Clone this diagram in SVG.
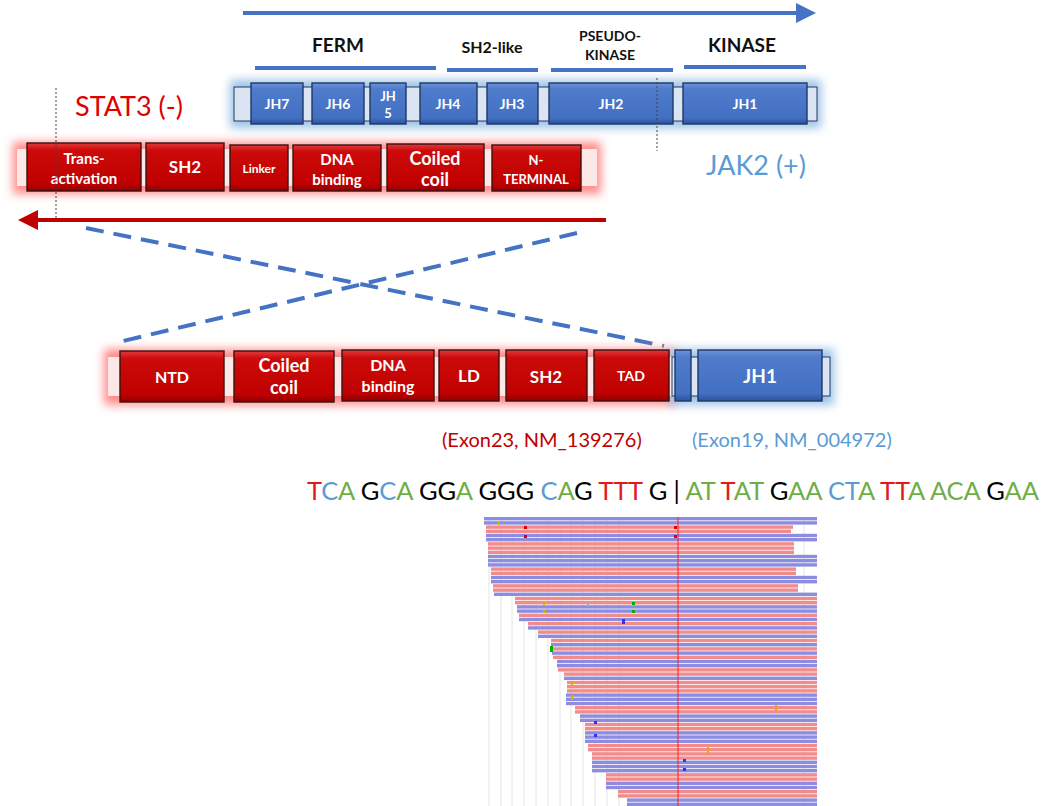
<svg xmlns="http://www.w3.org/2000/svg" width="1050" height="806" viewBox="0 0 1050 806">
<defs>
<linearGradient id="gB" x1="0" y1="0" x2="0" y2="1"><stop offset="0" stop-color="#6b93db"/><stop offset="0.15" stop-color="#4f7bcb"/><stop offset="0.85" stop-color="#4270c2"/><stop offset="1" stop-color="#2d5299"/></linearGradient>
<linearGradient id="gR" x1="0" y1="0" x2="0" y2="1"><stop offset="0" stop-color="#e23a3a"/><stop offset="0.15" stop-color="#cc0a0a"/><stop offset="0.85" stop-color="#c00000"/><stop offset="1" stop-color="#8e0000"/></linearGradient>
<filter id="blur" x="-20%" y="-60%" width="140%" height="220%"><feGaussianBlur stdDeviation="5"/></filter>
<marker id="ahB" markerWidth="5" markerHeight="5" refX="1" refY="2.5" orient="auto" markerUnits="strokeWidth"><path d="M0,0 L5,2.5 L0,5 Z" fill="#4472c4"/></marker>
<marker id="ahR" markerWidth="5" markerHeight="5" refX="1" refY="2.5" orient="auto" markerUnits="strokeWidth"><path d="M0,0 L5,2.5 L0,5 Z" fill="#c00000"/></marker>
<style>
.bb{fill:url(#gB);stroke:#1f3864;stroke-width:1.4}
.rb{fill:url(#gR);stroke:#3a1010;stroke-width:1.4}
.lb{fill:#fff;font-family:Lato,"Liberation Sans",sans-serif;font-weight:bold;text-anchor:middle}
.hd{fill:#111;font-family:Lato,"Liberation Sans",sans-serif;font-weight:bold;text-anchor:middle}
.hl{stroke:#4472c4;stroke-width:4}
.dash{stroke:#4472c4;stroke-width:4;stroke-dasharray:18 10;fill:none}
.dot{stroke:#444;stroke-width:1;stroke-dasharray:2 2}
.big{font-family:Lato,"Liberation Sans",sans-serif}
.b{fill:#8c8ce0}.p{fill:#f28b8b}
.grid{stroke:#e4e4e4;stroke-width:1}
.r{fill:#e31a1c}.c{fill:#5b9bd5}.a{fill:#70ad47}.k{fill:#000}
</style>
</defs>
<rect width="1050" height="806" fill="#fff"/>

<!-- JAK2 -->
<g id="jak2">
<rect x="230" y="80" width="591" height="48" fill="#9dc3e6" filter="url(#blur)"/>
<rect x="234" y="87" width="583" height="34" fill="#dbe4f3" stroke="#203864" stroke-width="1"/>
<g id="jh7"><rect class="bb" x="251" y="83" width="52" height="41"/><text class="lb" x="277" y="109" font-size="14">JH7</text></g>
<g id="jh6"><rect class="bb" x="312" y="83" width="52" height="41"/><text class="lb" x="338" y="109" font-size="14">JH6</text></g>
<g id="jh5"><rect class="bb" x="370" y="83" width="36" height="41"/><text class="lb" x="388" y="101" font-size="13">JH</text><text class="lb" x="388" y="118" font-size="13">5</text></g>
<g id="jh4"><rect class="bb" x="420" y="83" width="57" height="41"/><text class="lb" x="448" y="109" font-size="14">JH4</text></g>
<g id="jh3"><rect class="bb" x="487" y="83" width="51" height="41"/><text class="lb" x="512" y="109" font-size="14">JH3</text></g>
<g id="jh2"><rect class="bb" x="549" y="83" width="124" height="41"/><text class="lb" x="611" y="109" font-size="14">JH2</text></g>
<g id="jh1"><rect class="bb" x="683" y="83" width="124" height="41"/><text class="lb" x="745" y="109" font-size="14">JH1</text></g>
</g>

<g id="headers">
<text class="hd" x="338" y="52" font-size="19">FERM</text>
<text class="hd" x="492" y="53" font-size="16" font-weight="600">SH2-like</text>
<text class="hd" x="610" y="41" font-size="14">PSEUDO-</text>
<text class="hd" x="610" y="60" font-size="14">KINASE</text>
<text class="hd" x="742" y="52" font-size="19">KINASE</text>
<line class="hl" x1="255" y1="68" x2="436" y2="68"/>
<line class="hl" x1="447" y1="70" x2="538" y2="70"/>
<line class="hl" x1="551" y1="70" x2="673" y2="70"/>
<line class="hl" x1="684" y1="67" x2="806" y2="67"/>
</g>

<text id="stat3label" class="big" x="75" y="116" font-size="27" fill="#e00000">STAT3 (-)</text>
<text id="jak2label" class="big" x="706" y="175" font-size="27" fill="#5b9bd5">JAK2 (+)</text>

<!-- STAT3 -->
<g id="stat3">
<rect x="13" y="142" width="588" height="52" fill="#ff8a8a" filter="url(#blur)"/>
<rect x="17" y="149" width="580" height="37" fill="#fde8e8"/>
<g id="tad1"><rect class="rb" x="27" y="143" width="114" height="48"/><text class="lb" x="84" y="164" font-size="15">Trans-</text><text class="lb" x="84" y="184" font-size="15">activation</text></g>
<g id="sh2a"><rect class="rb" x="146" y="143" width="78" height="48"/><text class="lb" x="185" y="173" font-size="17">SH2</text></g>
<g id="linker"><rect class="rb" x="230" y="145" width="58" height="46"/><text class="lb" x="259" y="173" font-size="12">Linker</text></g>
<g id="dna1"><rect class="rb" x="293" y="145" width="88" height="46"/><text class="lb" x="337" y="165" font-size="15">DNA</text><text class="lb" x="337" y="185" font-size="15">binding</text></g>
<g id="cc1"><rect class="rb" x="387" y="144" width="97" height="47"/><text class="lb" x="435" y="165" font-size="18">Coiled</text><text class="lb" x="435" y="186" font-size="18">coil</text></g>
<g id="nterm"><rect class="rb" x="492" y="145" width="89" height="46"/><text class="lb" x="536" y="165" font-size="13">N-</text><text class="lb" x="536" y="184" font-size="13">TERMINAL</text></g>
</g>

<g id="connectors">
<line x1="243" y1="13" x2="800" y2="13" stroke="#4472c4" stroke-width="4" marker-end="url(#ahB)"/>
<line x1="606" y1="220" x2="34" y2="220" stroke="#c00000" stroke-width="4" marker-end="url(#ahR)"/>
<line class="dot" x1="56" y1="88" x2="56" y2="220"/>
<line class="dot" x1="657" y1="78" x2="657" y2="151"/>
<line class="dash" x1="86" y1="228" x2="664" y2="346"/>
<line class="dash" x1="577" y1="233" x2="123" y2="341"/>
</g>

<!-- Fusion -->
<g id="fusion">
<rect x="104" y="349" width="572" height="56" fill="#ff8a8a" filter="url(#blur)"/>
<rect x="668" y="349" width="166" height="56" fill="#9dc3e6" filter="url(#blur)"/>
<rect x="108" y="357" width="722" height="39" fill="#fde8e8"/>
<rect x="672" y="357" width="158" height="39" fill="#dbe4f3" stroke="#203864" stroke-width="1"/>
<g id="ntd"><rect class="rb" x="120" y="351" width="104" height="51"/><text class="lb" x="172" y="383" font-size="16">NTD</text></g>
<g id="cc2"><rect class="rb" x="234" y="351" width="100" height="51"/><text class="lb" x="284" y="372" font-size="18">Coiled</text><text class="lb" x="284" y="394" font-size="18">coil</text></g>
<g id="dna2"><rect class="rb" x="342" y="350" width="92" height="51"/><text class="lb" x="388" y="371" font-size="16">DNA</text><text class="lb" x="388" y="392" font-size="16">binding</text></g>
<g id="ld"><rect class="rb" x="439" y="350" width="60" height="51"/><text class="lb" x="469" y="382" font-size="17">LD</text></g>
<g id="sh2b"><rect class="rb" x="506" y="350" width="81" height="51"/><text class="lb" x="546" y="383" font-size="17">SH2</text></g>
<g id="tad2"><rect class="rb" x="594" y="350" width="75" height="51"/><text class="lb" x="631" y="381" font-size="14">TAD</text></g>
<g id="link"><rect class="bb" x="675" y="350" width="16" height="51"/></g>
<g id="jh1b"><rect class="bb" x="698" y="350" width="124" height="51"/><text class="lb" x="760" y="383" font-size="19">JH1</text></g>
</g>

<text class="big" x="442" y="447" font-size="20" fill="#c00000">(Exon23, NM_139276)</text>
<text class="big" x="692" y="447" font-size="20" fill="#5b9bd5">(Exon19, NM_004972)</text>

<text class="big" x="307" y="500" font-size="25.5" textLength="732" lengthAdjust="spacing"><tspan class="r">T</tspan><tspan class="c">C</tspan><tspan class="a">A</tspan><tspan class="k"> G</tspan><tspan class="c">C</tspan><tspan class="a">A</tspan><tspan class="k"> GG</tspan><tspan class="a">A</tspan><tspan class="k"> GGG </tspan><tspan class="c">C</tspan><tspan class="a">A</tspan><tspan class="k">G </tspan><tspan class="r">TTT</tspan><tspan class="k"> G | </tspan><tspan class="a">AT </tspan><tspan class="r">T</tspan><tspan class="a">AT</tspan><tspan class="k"> G</tspan><tspan class="a">AA </tspan><tspan class="c">CT</tspan><tspan class="a">A </tspan><tspan class="r">TT</tspan><tspan class="a">A ACA</tspan><tspan class="k"> G</tspan><tspan class="a">AA</tspan></text>

<!-- reads pileup -->
<g id="pileup">
<line class="grid" x1="489" y1="517" x2="489" y2="806"/>
<line class="grid" x1="501" y1="517" x2="501" y2="806"/>
<line class="grid" x1="512" y1="517" x2="512" y2="806"/>
<line class="grid" x1="524" y1="517" x2="524" y2="806"/>
<line class="grid" x1="536" y1="517" x2="536" y2="806"/>
<line class="grid" x1="548" y1="517" x2="548" y2="806"/>
<line class="grid" x1="560" y1="517" x2="560" y2="806"/>
<line class="grid" x1="571" y1="517" x2="571" y2="806"/>
<line class="grid" x1="583" y1="517" x2="583" y2="806"/>
<line class="grid" x1="595" y1="517" x2="595" y2="806"/>
<line class="grid" x1="607" y1="517" x2="607" y2="806"/>
<line class="grid" x1="619" y1="517" x2="619" y2="806"/>
<line class="grid" x1="804" y1="517" x2="804" y2="806"/>
<rect class="b" x="484" y="517.0" width="333" height="3.4"/>
<rect class="b" x="484" y="521.2" width="333" height="3.4"/>
<rect class="p" x="486" y="525.4" width="307" height="3.4"/>
<rect class="p" x="486" y="529.6" width="305" height="3.4"/>
<rect class="b" x="486" y="533.8" width="331" height="3.4"/>
<rect class="b" x="486" y="538.0" width="331" height="3.4"/>
<rect class="p" x="488" y="542.2" width="306" height="3.4"/>
<rect class="p" x="488" y="546.4" width="306" height="3.4"/>
<rect class="p" x="488" y="550.6" width="306" height="3.4"/>
<rect class="b" x="488" y="554.8" width="329" height="3.4"/>
<rect class="b" x="488" y="559.0" width="329" height="3.4"/>
<rect class="b" x="488" y="563.2" width="329" height="3.4"/>
<rect class="p" x="491" y="567.4" width="305" height="3.4"/>
<rect class="p" x="491" y="571.6" width="305" height="3.4"/>
<rect class="b" x="491" y="575.8" width="326" height="3.4"/>
<rect class="b" x="491" y="580.0" width="326" height="3.4"/>
<rect class="p" x="493" y="584.2" width="305" height="3.4"/>
<rect class="p" x="493" y="588.4" width="305" height="3.4"/>
<rect class="b" x="494" y="592.6" width="323" height="3.4"/>
<rect class="p" x="515" y="596.8" width="302" height="3.4"/>
<rect class="p" x="515" y="601.0" width="302" height="3.4"/>
<rect class="b" x="517" y="605.2" width="300" height="3.4"/>
<rect class="b" x="517" y="609.4" width="300" height="3.4"/>
<rect class="p" x="519" y="613.6" width="298" height="3.4"/>
<rect class="b" x="519" y="617.8" width="298" height="3.4"/>
<rect class="p" x="528" y="622.0" width="289" height="3.4"/>
<rect class="b" x="528" y="626.2" width="289" height="3.4"/>
<rect class="p" x="538" y="630.4" width="279" height="3.4"/>
<rect class="b" x="538" y="634.6" width="279" height="3.4"/>
<rect class="p" x="551" y="638.8" width="266" height="3.4"/>
<rect class="b" x="551" y="643.0" width="266" height="3.4"/>
<rect class="p" x="552" y="647.2" width="265" height="3.4"/>
<rect class="b" x="552" y="651.4" width="265" height="3.4"/>
<rect class="p" x="553" y="655.6" width="264" height="3.4"/>
<rect class="b" x="557" y="659.8" width="260" height="3.4"/>
<rect class="b" x="557" y="664.0" width="260" height="3.4"/>
<rect class="p" x="558" y="668.2" width="259" height="3.4"/>
<rect class="p" x="564" y="672.4" width="253" height="3.4"/>
<rect class="b" x="564" y="676.6" width="253" height="3.4"/>
<rect class="p" x="567" y="680.8" width="250" height="3.4"/>
<rect class="p" x="567" y="685.0" width="250" height="3.4"/>
<rect class="p" x="567" y="689.2" width="250" height="3.4"/>
<rect class="b" x="566" y="693.4" width="251" height="3.4"/>
<rect class="b" x="566" y="697.6" width="251" height="3.4"/>
<rect class="b" x="566" y="701.8" width="251" height="3.4"/>
<rect class="p" x="575" y="706.0" width="242" height="3.4"/>
<rect class="p" x="575" y="710.2" width="242" height="3.4"/>
<rect class="b" x="580" y="714.4" width="237" height="3.4"/>
<rect class="b" x="580" y="718.6" width="237" height="3.4"/>
<rect class="p" x="585" y="722.8" width="232" height="3.4"/>
<rect class="p" x="585" y="727.0" width="232" height="3.4"/>
<rect class="b" x="585" y="731.2" width="232" height="3.4"/>
<rect class="b" x="585" y="735.4" width="232" height="3.4"/>
<rect class="b" x="585" y="739.6" width="232" height="3.4"/>
<rect class="p" x="588" y="743.8" width="229" height="3.4"/>
<rect class="p" x="588" y="748.0" width="229" height="3.4"/>
<rect class="p" x="592" y="752.2" width="225" height="3.4"/>
<rect class="p" x="592" y="756.4" width="225" height="3.4"/>
<rect class="b" x="592" y="760.6" width="225" height="3.4"/>
<rect class="b" x="592" y="764.8" width="225" height="3.4"/>
<rect class="b" x="592" y="769.0" width="225" height="3.4"/>
<rect class="p" x="606" y="773.2" width="211" height="3.4"/>
<rect class="p" x="606" y="777.4" width="211" height="3.4"/>
<rect class="b" x="606" y="781.6" width="211" height="3.4"/>
<rect class="b" x="606" y="785.8" width="211" height="3.4"/>
<rect class="p" x="618" y="790.0" width="199" height="3.4"/>
<rect class="p" x="618" y="794.2" width="199" height="3.4"/>
<rect class="b" x="627" y="798.4" width="190" height="3.4"/>
<rect class="b" x="627" y="802.6" width="190" height="3.4"/>
<line x1="678" y1="517" x2="678" y2="806" stroke="#ff2020" stroke-width="1"/>
<rect x="498" y="522" width="2" height="3" fill="#e0b000"/>
<rect x="524" y="526" width="3" height="3" fill="#e00000"/>
<rect x="524" y="535" width="3" height="3" fill="#e00000"/>
<rect x="674" y="526" width="3" height="3" fill="#e00000"/>
<rect x="674" y="535" width="3" height="3" fill="#e00000"/>
<rect x="543" y="602" width="2" height="3" fill="#e0b000"/>
<rect x="543" y="610" width="2" height="3" fill="#e0b000"/>
<rect x="587" y="602" width="2" height="3" fill="#aaa"/>
<rect x="632" y="602" width="3" height="3" fill="#00b000"/>
<rect x="632" y="610" width="3" height="3" fill="#00b000"/>
<rect x="622" y="619" width="3" height="5" fill="#3030ff"/>
<rect x="550" y="646" width="3" height="6" fill="#00b000"/>
<rect x="571" y="681" width="2" height="5" fill="#e0b000"/>
<rect x="571" y="695" width="2" height="5" fill="#e0b000"/>
<rect x="775" y="705" width="2" height="6" fill="#e0b000"/>
<rect x="594" y="721" width="3" height="3" fill="#3030ff"/>
<rect x="594" y="734" width="3" height="3" fill="#3030ff"/>
<rect x="707" y="747" width="2" height="6" fill="#e0b000"/>
<rect x="683" y="759" width="3" height="3" fill="#3030ff"/>
<rect x="683" y="768" width="3" height="3" fill="#3030ff"/>
</g>
</svg>
